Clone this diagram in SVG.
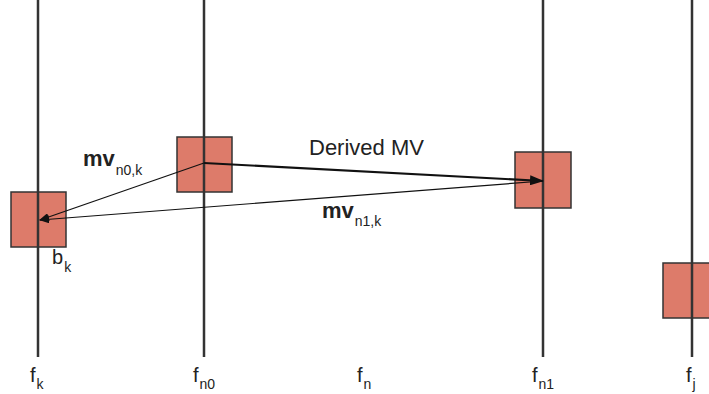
<svg xmlns="http://www.w3.org/2000/svg" width="709" height="394" viewBox="0 0 709 394">
<defs>
<style>
.axis{stroke:#333;stroke-width:2.5}
.blk{fill:#dd7b6a;stroke:#333;stroke-width:1.5}
.t{font-family:"Liberation Sans",Arial,sans-serif;fill:#222;font-size:20px}
.s{font-size:14px;font-weight:normal}
.b{font-weight:bold;font-size:22px}
.ln{stroke:#111;stroke-width:1.2;fill:none}
.lnb{stroke:#111;stroke-width:2.2;fill:none}
</style>
<marker id="ah" markerWidth="10" markerHeight="8" refX="9" refY="4" orient="auto" markerUnits="userSpaceOnUse">
<path d="M0,0 L10,4 L0,8 z" fill="#111"/>
</marker>
<marker id="ahb" markerWidth="14" markerHeight="10" refX="13" refY="5" orient="auto" markerUnits="userSpaceOnUse">
<path d="M0,0 L14,5 L0,10 z" fill="#111"/>
</marker>
</defs>
<rect width="709" height="394" fill="#fff"/>
<g id="axes">
<line class="axis" x1="38" y1="0" x2="38" y2="357"/>
<line class="axis" x1="204" y1="0" x2="204" y2="357"/>
<line class="axis" x1="543" y1="0" x2="543" y2="357"/>
<line class="axis" x1="692" y1="0" x2="692" y2="357"/>
</g>
<g id="block-k"><rect class="blk" x="11" y="192" width="55" height="55"/></g>
<g id="block-n0"><rect class="blk" x="177" y="137" width="55" height="55"/></g>
<g id="block-n1"><rect class="blk" x="515" y="152" width="56" height="56"/></g>
<g id="block-j"><rect class="blk" x="663" y="263" width="55" height="55"/></g>
<g id="axes-over">
<line class="axis" x1="38" y1="192" x2="38" y2="247"/>
<line class="axis" x1="204" y1="137" x2="204" y2="192"/>
<line class="axis" x1="543" y1="152" x2="543" y2="208"/>
<line class="axis" x1="692" y1="263" x2="692" y2="318"/>
</g>
<g id="connectors">
<line class="ln" x1="204" y1="163" x2="40" y2="220" marker-end="url(#ah)"/>
<line class="ln" x1="543" y1="181" x2="40" y2="220" marker-end="url(#ah)"/>
<line class="lnb" x1="204" y1="163" x2="543" y2="181" marker-end="url(#ahb)"/>
</g>
<g id="labels">
<text class="t" x="309" y="155" style="font-size:22px">Derived MV</text>
<text class="t b" x="83" y="166">mv<tspan class="s" dx="1" dy="9">n0,k</tspan></text>
<text class="t b" x="322" y="218">mv<tspan class="s" dx="1" dy="8">n1,k</tspan></text>
<text class="t" x="52" y="264">b<tspan class="s" dx="1" dy="8">k</tspan></text>
<text class="t" x="30" y="382">f<tspan class="s" dx="1" dy="7">k</tspan></text>
<text class="t" x="193" y="382">f<tspan class="s" dx="1" dy="7">n0</tspan></text>
<text class="t" x="357" y="382">f<tspan class="s" dx="1" dy="7">n</tspan></text>
<text class="t" x="532" y="382">f<tspan class="s" dx="1" dy="7">n1</tspan></text>
<text class="t" x="686" y="382">f<tspan class="s" dx="1" dy="7">j</tspan></text>
</g>
</svg>
